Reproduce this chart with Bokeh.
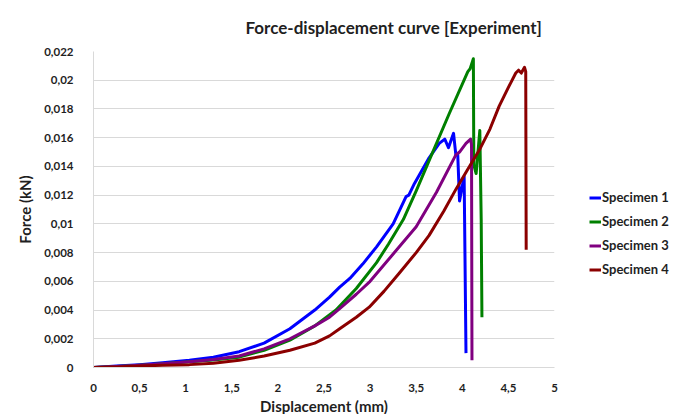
from bokeh.plotting import figure
from bokeh.models import FixedTicker, Legend, LegendItem
from bokeh.embed import file_html
from bokeh.resources import INLINE

# ---- data ----
x_ticks = [0, 0.5, 1, 1.5, 2, 2.5, 3, 3.5, 4, 4.5, 5]
x_tick_labels = ["0", "0,5", "1", "1,5", "2", "2,5", "3", "3,5", "4", "4,5", "5"]
y_ticks = [0, 0.002, 0.004, 0.006, 0.008, 0.010, 0.012, 0.014, 0.016, 0.018, 0.020, 0.022]
y_tick_labels = ["0", "0,002", "0,004", "0,006", "0,008", "0,01", "0,012", "0,014",
                 "0,016", "0,018", "0,02", "0,022"]

series_names = ["Specimen 1", "Specimen 2", "Specimen 3", "Specimen 4"]
series_colors = ["#0000FF", "#008000", "#800080", "#8B0000"]

s1_disp = [0, 0.25, 0.5, 0.75, 1.04, 1.3, 1.58, 1.85, 2.13, 2.4, 2.56, 2.67, 2.78, 2.92,
           3.07, 3.25, 3.39, 3.42, 3.48, 3.64, 3.75, 3.81, 3.85, 3.905, 3.93, 3.95, 3.97,
           4.005, 4.02, 4.04]
s1_force = [0, 0.0001, 0.0002, 0.00033, 0.0005, 0.00072, 0.0011, 0.0017, 0.0027, 0.0040,
            0.0049, 0.0056, 0.0062, 0.0072, 0.0084, 0.0100, 0.0119, 0.0120, 0.0128, 0.0146,
            0.0156, 0.0159, 0.0153, 0.0163, 0.0148, 0.0149, 0.0116, 0.0128, 0.0133, 0.0010]

s2_disp = [0, 0.25, 0.5, 0.75, 1.04, 1.3, 1.58, 1.85, 2.13, 2.4, 2.63, 2.85, 3.07, 3.2, 3.36,
           3.5, 3.64, 3.86, 4.06, 4.085, 4.12, 4.125, 4.15, 4.19, 4.205, 4.213]
s2_force = [0, 0.00007, 0.00015, 0.00026, 0.0004, 0.00053, 0.00072, 0.0012, 0.0019, 0.0029,
            0.0040, 0.0055, 0.0073, 0.0086, 0.0103, 0.0123, 0.0144, 0.0177, 0.0206, 0.0208,
            0.0215, 0.0141, 0.0135, 0.0165, 0.0103, 0.0035]

s3_disp = [0, 0.25, 0.5, 0.75, 1.04, 1.3, 1.58, 1.85, 2.13, 2.4, 2.56, 2.67, 2.85, 3.0, 3.25,
           3.5, 3.72, 3.93, 3.97, 4.04, 4.09, 4.10, 4.105]
s3_force = [0, 0.00007, 0.00015, 0.00026, 0.0004, 0.00055, 0.0008, 0.0013, 0.0020, 0.0029,
            0.0035, 0.0041, 0.0051, 0.0060, 0.0079, 0.0098, 0.0122, 0.0148, 0.0150, 0.0156,
            0.0159, 0.0155, 0.0005]

s4_disp = [0, 0.25, 0.5, 0.75, 1.04, 1.3, 1.58, 1.85, 2.13, 2.4, 2.56, 2.67, 2.85, 2.99, 3.15,
           3.32, 3.5, 3.64, 3.8, 3.93, 4.05, 4.19, 4.3, 4.40, 4.5, 4.58, 4.61, 4.64, 4.675,
           4.688, 4.693]
s4_force = [0, 0.00004, 0.0001, 0.00015, 0.0002, 0.0003, 0.0005, 0.0008, 0.0012, 0.0017,
            0.0022, 0.0027, 0.0035, 0.0042, 0.0053, 0.0066, 0.0080, 0.0092, 0.0109, 0.0124,
            0.0137, 0.0152, 0.0166, 0.0182, 0.0195, 0.0205, 0.0207, 0.0205, 0.0209, 0.0206,
            0.0082]

all_disp = [s1_disp, s2_disp, s3_disp, s4_disp]
all_force = [s1_force, s2_force, s3_force, s4_force]

FONT = "Lato"
TXT = "#1f1f1f"
GRID = "#d9d9d9"

p = figure(frame_width=461, frame_height=316,
           x_range=(0, 5), y_range=(0, 0.022),
           output_backend="svg", toolbar_location=None,
           min_border_left=93, min_border_right=118,
           min_border_top=50, min_border_bottom=40,
           title="Force-displacement curve [Experiment]")
p.outline_line_color = None
p.background_fill_color = "white"
p.border_fill_color = "white"

p.title.text_font = FONT
p.title.text_font_size = "17px"
p.title.text_font_style = "bold"
p.title.text_color = TXT
p.title.align = "left"
p.title.offset = 152
p.title.standoff = 28

p.xaxis.ticker = FixedTicker(ticks=x_ticks)
p.xaxis.major_label_overrides = {t: l for t, l in zip(x_ticks, x_tick_labels)}
p.yaxis.ticker = FixedTicker(ticks=y_ticks)
p.yaxis.major_label_overrides = {t: l for t, l in zip(y_ticks, y_tick_labels)}

for ax in (p.xaxis, p.yaxis):
    ax.axis_line_color = GRID
    ax.major_tick_line_color = None
    ax.minor_tick_line_color = None
    ax.major_label_text_font = FONT
    ax.major_label_text_font_size = "11.5px"
    ax.major_label_text_font_style = "bold"
    ax.major_label_text_color = TXT
    ax.axis_label_text_font = FONT
    ax.axis_label_text_font_size = "15px"
    ax.axis_label_text_font_style = "bold"
    ax.axis_label_text_color = TXT

p.xaxis.axis_label = "Displacement (mm)"
p.yaxis.axis_label = "Force (kN)"
p.xaxis.major_label_standoff = 10
p.yaxis.major_label_standoff = 14
p.xaxis.axis_label_standoff = 2
p.yaxis.axis_label_standoff = 7

p.xgrid.grid_line_color = None
p.ygrid.grid_line_color = GRID
p.ygrid.grid_line_width = 1

items = []
for name, col, xs, ys in zip(series_names, series_colors, all_disp, all_force):
    r = p.line(xs, ys, line_color=col, line_width=3, line_join="round")
    items.append(LegendItem(label=name, renderers=[r]))

legend = Legend(items=items, location=(35, 90))
legend.label_text_font = FONT
legend.label_text_font_size = "13px"
legend.label_text_font_style = "bold"
legend.label_text_color = TXT
legend.glyph_width = 12
legend.glyph_height = 15
legend.label_standoff = 1
legend.label_height = 15
legend.spacing = 8
legend.padding = 0
legend.margin = 0
legend.border_line_color = None
legend.background_fill_alpha = 0
p.add_layout(legend, "right")

open("out.html", "w").write(file_html(p, INLINE))
